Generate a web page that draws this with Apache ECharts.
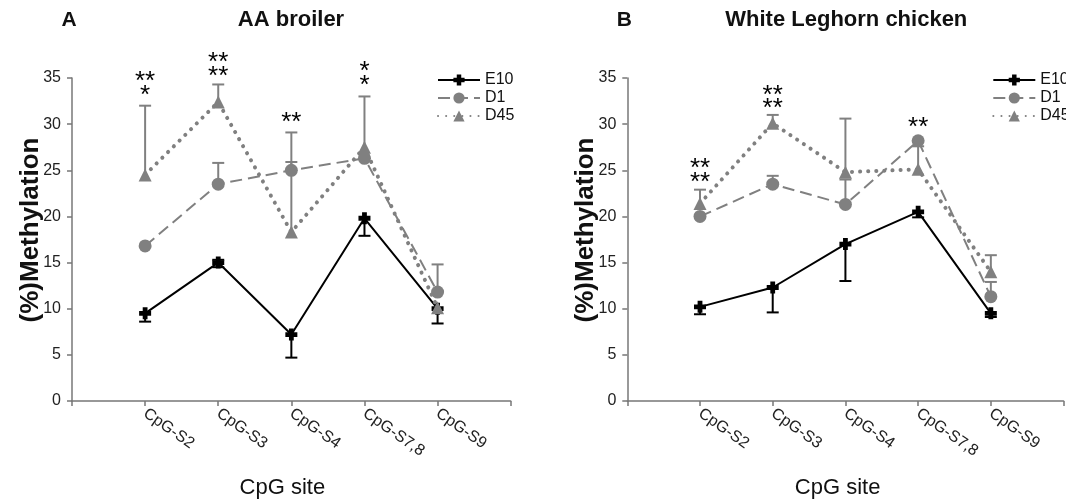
<!DOCTYPE html>
<html>
<head>
<meta charset="utf-8">
<script src="https://cdn.jsdelivr.net/npm/echarts@6/dist/echarts.min.js"></script>
<style>
html,body{margin:0;padding:0;background:#fff;}
#chart{width:1066px;height:502px;}
</style>
</head>
<body>
<div id="chart"></div>
<script>
// ---- data ----
const categories = ['CpG-S2', 'CpG-S3', 'CpG-S4', 'CpG-S7,8', 'CpG-S9'];
const seriesNames = ['E10', 'D1', 'D45'];
const yTickMin = 0, yTickMax = 35, yTickStep = 5;

// Panel A: AA broiler
const aE10 = [9.5, 15.0, 7.2, 19.8, 10.0];
const aE10Low = [8.6, 14.5, 4.7, 17.9, 8.4];
const aE10High = [9.5, 15.3, 7.2, 19.8, 10.0];
const aD1 = [16.8, 23.5, 25.0, 26.3, 11.8];
const aD1Low = [16.8, 23.5, 25.0, 26.3, 11.8];
const aD1High = [16.8, 25.8, 25.9, 26.3, 14.8];
const aD45 = [24.5, 32.4, 18.3, 27.5, 10.1];
const aD45Low = [24.5, 32.4, 18.3, 27.5, 10.1];
const aD45High = [32.0, 34.3, 29.1, 33.0, 10.1];
// significance marks: [category index, y level, text]
const aStars = [[0, 35.1, '**'], [0, 33.6, '*'], [1, 37.2, '**'], [1, 35.7, '**'], [2, 30.7, '**'], [3, 36.2, '*'], [3, 34.7, '*']];

// Panel B: White Leghorn chicken
const bE10 = [10.2, 12.3, 17.0, 20.5, 9.5];
const bE10Low = [9.4, 9.6, 13.0, 19.9, 9.1];
const bE10High = [10.2, 12.3, 17.0, 20.5, 9.5];
const bD1 = [20.0, 23.5, 21.3, 28.2, 11.3];
const bD1Low = [20.0, 23.5, 21.3, 28.2, 11.3];
const bD1High = [20.0, 24.4, 24.0, 28.2, 12.9];
const bD45 = [21.4, 30.1, 24.8, 25.1, 14.0];
const bD45Low = [21.4, 30.1, 24.8, 25.1, 14.0];
const bD45High = [22.9, 31.0, 30.6, 27.6, 15.8];
const bStars = [[0, 25.7, '**'], [0, 24.2, '**'], [1, 33.6, '**'], [1, 32.2, '**'], [3, 30.1, '**']];

const titles = ['AA broiler', 'White Leghorn chicken'];
const panelLetters = ['A', 'B'];
const xName = 'CpG site';
const yName = '(%)Methylation';

// ---- styles ----
const FONT = 'Liberation Sans, Arial, sans-serif';
const GREY = '#808080';
const plusPath = 'path://M3,0 H7 V3 H10 V7 H7 V10 H3 V7 H0 V3 H3 Z';
const styles = {
  E10: {color: '#000', lineType: 'solid', width: 2, symbol: plusPath, size: 12, cap: 'butt'},
  D1: {color: GREY, lineType: [12, 6], width: 2, symbol: 'circle', size: 13, cap: 'butt'},
  D45: {color: GREY, lineType: [0.1, 8], width: 4, symbol: 'triangle', size: 13, cap: 'round'}
};

const chart = echarts.init(document.getElementById('chart'));

const gridLefts = [72, 627.3];
const gridW = 438.7;

function toPts(arr) { return arr.map((v, i) => [i + 1, v]); }
function toErr(mean, lo, hi) { return mean.map((v, i) => [i + 1, lo[i], hi[i], v]); }

function errRender(color) {
  return function (params, api) {
    const x = api.value(0), lo = api.value(1), hi = api.value(2), m = api.value(3);
    const pLo = api.coord([x, lo]), pHi = api.coord([x, hi]);
    const children = [];
    const st = {stroke: color, lineWidth: 2};
    children.push({type: 'line', shape: {x1: pLo[0], y1: pLo[1], x2: pHi[0], y2: pHi[1]}, style: st});
    const hw = 6;
    if (lo < m) children.push({type: 'line', shape: {x1: pLo[0] - hw, y1: pLo[1], x2: pLo[0] + hw, y2: pLo[1]}, style: st});
    if (hi > m) children.push({type: 'line', shape: {x1: pHi[0] - hw, y1: pHi[1], x2: pHi[0] + hw, y2: pHi[1]}, style: st});
    return {type: 'group', children: children};
  };
}

function starRender(params, api) {
  const p = api.coord([api.value(0), api.value(1)]);
  return {type: 'text', x: p[0], y: p[1] + 5, style: {text: String(api.value(2)), font: '26px ' + FONT, fill: '#000', align: 'center', verticalAlign: 'middle'}};
}

const panels = [
  {mean: [aE10, aD1, aD45], lo: [aE10Low, aD1Low, aD45Low], hi: [aE10High, aD1High, aD45High], stars: aStars},
  {mean: [bE10, bD1, bD45], lo: [bE10Low, bD1Low, bD45Low], hi: [bE10High, bD1High, bD45High], stars: bStars}
];

const grids = [], xAxes = [], yAxes = [], series = [], legends = [], graphics = [];
panels.forEach((pn, k) => {
  grids.push({left: gridLefts[k], top: 78, width: gridW, height: 323, containLabel: false});
  xAxes.push({
    type: 'value', gridIndex: k, min: 0, max: 6, interval: 1,
    axisLine: {lineStyle: {color: '#777', width: 1.5}},
    axisTick: {show: true, length: 5, lineStyle: {color: '#777', width: 1.5}},
    splitLine: {show: false},
    axisLabel: {
      rotate: -35, margin: 11, fontFamily: FONT, fontSize: 16, color: '#222',
      formatter: v => categories[v - 1] || '', showMinLabel: true, showMaxLabel: true
    }
  });
  yAxes.push({
    type: 'value', gridIndex: k, min: yTickMin, max: yTickMax, interval: yTickStep,
    axisLine: {show: true, lineStyle: {color: '#777', width: 1.5}},
    axisTick: {show: true, length: 5, lineStyle: {color: '#777', width: 1.5}},
    splitLine: {show: false},
    axisLabel: {fontFamily: FONT, fontSize: 16, color: '#222', margin: 11}
  });
  seriesNames.forEach((nm, j) => {
    const s = styles[nm];
    series.push({
      type: 'custom', name: nm + '_err' + k, xAxisIndex: k, yAxisIndex: k,
      renderItem: errRender(s.color), data: toErr(pn.mean[j], pn.lo[j], pn.hi[j]),
      encode: {x: 0, y: [1, 2]}, z: 2, silent: true
    });
  });
  seriesNames.forEach((nm, j) => {
    const s = styles[nm];
    series.push({
      type: 'line', name: nm, xAxisIndex: k, yAxisIndex: k,
      data: toPts(pn.mean[j]), symbol: s.symbol, symbolSize: s.size, showSymbol: true,
      itemStyle: {color: s.color, borderWidth: 0},
      lineStyle: {color: s.color, width: s.width, type: s.lineType, cap: s.cap},
      z: 3 + j, animation: false
    });
  });
  series.push({
    type: 'custom', name: 'stars' + k, xAxisIndex: k, yAxisIndex: k,
    renderItem: starRender, data: pn.stars.map(s => [s[0] + 1, s[1], s[2]]),
    encode: {x: 0, y: 1}, z: 10, silent: true, clip: false
  });
  legends.push({
    data: seriesNames, orient: 'vertical', left: gridLefts[k] + 360, top: 67,
    itemWidth: 42, itemHeight: 14, itemGap: 2,
    textStyle: {fontFamily: FONT, fontSize: 16, color: '#111'},
    selectedMode: false
  });
  const cx = gridLefts[k] + gridW / 2;
  graphics.push({type: 'text', x: cx - 9, y: 488, style: {text: xName, font: '22px ' + FONT, fill: '#111', align: 'center', verticalAlign: 'middle'}});
  graphics.push({type: 'text', x: gridLefts[k] - 41, y: 230, rotation: Math.PI / 2, style: {text: yName, font: 'bold 26px ' + FONT, fill: '#111', align: 'center', verticalAlign: 'middle'}});
  graphics.push({type: 'text', x: gridLefts[k] + 219, y: 20, style: {text: titles[k], font: 'bold 22px ' + FONT, fill: '#111', align: 'center', verticalAlign: 'middle'}});
  graphics.push({type: 'text', x: gridLefts[k] - 3, y: 20, style: {text: panelLetters[k], font: 'bold 21px ' + FONT, fill: '#111', align: 'center', verticalAlign: 'middle'}});
});

chart.setOption({
  animation: false,
  backgroundColor: '#fff',
  grid: grids, xAxis: xAxes, yAxis: yAxes, series: series, legend: legends, graphic: graphics
});
</script>
</body>
</html>
